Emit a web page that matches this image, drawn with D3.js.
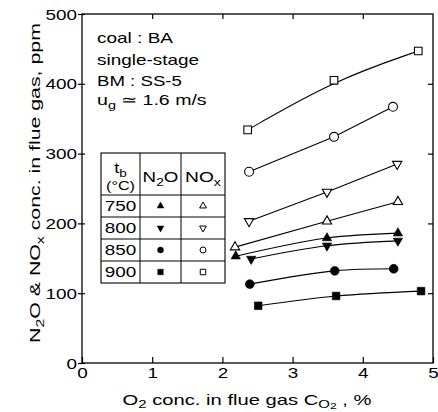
<!DOCTYPE html>
<html>
<head>
<meta charset="utf-8">
<script src="https://cdn.jsdelivr.net/npm/d3@7"></script>
<style>
  html, body { margin: 0; padding: 0; background: #fff; }
  svg { display: block; font-family: "Liberation Sans", Arial, Helvetica, sans-serif; }
</style>
</head>
<body>
<svg id="chart" width="438" height="412"></svg>
<script>
// Bed temperatures (°C), one curve pair per temperature
const temps = ["750", "800", "850", "900"];
// O2 concentration in flue gas (%) of each measured point
const n2oX = [[2.19, 3.49, 4.50], [2.41, 3.49, 4.50], [2.39, 3.60, 4.44], [2.51, 3.62, 4.83]];
const noxX = [[2.18, 3.49, 4.50], [2.38, 3.49, 4.49], [2.38, 3.59, 4.43], [2.36, 3.59, 4.79]];
// N2O and NOx concentrations (ppm)
const n2oY = [[153, 179, 186], [149, 168, 175], [113, 132, 135], [82, 96, 103]];
const noxY = [[166, 203, 231], [203, 245, 285], [274, 324, 367], [334, 405, 447]];
// Axis ticks
const xTicks = [0, 1, 2, 3, 4, 5];
const yTicks = [0, 100, 200, 300, 400, 500];
// Operating conditions block: text runs as [text, level] (0 normal, 1 subscript)
const infoLines = [
  [["coal : BA", 0]],
  [["single-stage", 0]],
  [["BM : SS-5", 0]],
  [["u", 0], ["g", 1], [" \u2243 1.6 m/s", 0]]
];

const svg = d3.select("#chart");
const X0 = 82, X1 = 433, Y0 = 363, Y1 = 14;
const x = d3.scaleLinear().domain([0, 5]).range([X0, X1]);
const y = d3.scaleLinear().domain([0, 500]).range([Y0, Y1]);

// Write text made of runs with subscripts; level 1 = subscript, level 2 = sub-subscript
function richText(parent, runs, size, shift = [0, 0.26, 0.42]) {
  const t = parent.append("text").attr("font-size", size).attr("fill", "#000");
  const scale = [1, 0.74, 0.6];
  let cur = 0;
  runs.forEach(([str, lvl]) => {
    const target = shift[lvl] * size;
    t.append("tspan")
      .attr("dy", (target - cur).toFixed(2))
      .attr("font-size", (size * scale[lvl]).toFixed(2))
      .text(str);
    cur = target;
  });
  return t;
}
// Place text at (px,py); either stretched to a width or by a fixed horizontal factor
function place(t, px, py, anchor, opts) {
  t.attr("text-anchor", anchor);
  let sx = opts.sx || 1;
  if (opts.width) sx = opts.width / t.node().getBBox().width;
  const rot = opts.rotate ? ` rotate(${opts.rotate})` : "";
  t.attr("transform", `translate(${px},${py})${rot} scale(${sx.toFixed(3)},1)`);
  return t;
}

// Frame
svg.append("rect")
  .attr("x", X0).attr("y", Y1).attr("width", X1 - X0).attr("height", Y0 - Y1)
  .attr("fill", "none").attr("stroke", "#000").attr("stroke-width", 1.3);

const TICK_FONT = 14, TICK_SX = 1.35;

// Left axis with labels
svg.append("g").attr("transform", `translate(${X0},0)`)
  .call(d3.axisLeft(y).tickValues(yTicks).tickSize(4).tickFormat(d3.format("d")))
  .call(g => g.select(".domain").remove())
  .call(g => g.selectAll(".tick line").attr("x1", 3).attr("stroke", "#000").attr("stroke-width", 1.2))
  .call(g => g.selectAll(".tick text")
    .attr("x", 0).attr("dy", "0.36em").attr("font-size", TICK_FONT)
    .attr("font-family", null).attr("fill", "#000")
    .attr("transform", `translate(-5,0) scale(${TICK_SX},1)`));

// Bottom axis with labels, ticks pointing inward
svg.append("g").attr("transform", `translate(0,${Y0})`)
  .call(d3.axisBottom(x).tickValues(xTicks).tickSize(-6).tickFormat(d3.format("d")))
  .call(g => g.select(".domain").remove())
  .call(g => g.selectAll(".tick line").attr("stroke", "#000").attr("stroke-width", 1.2))
  .call(g => g.selectAll(".tick text")
    .attr("y", 0).attr("dy", "0.71em").attr("font-size", TICK_FONT)
    .attr("font-family", null).attr("fill", "#000")
    .attr("transform", `translate(0,5) scale(${TICK_SX},1)`));

// Top and right axes: inward ticks only
svg.append("g").attr("transform", `translate(0,${Y1})`)
  .call(d3.axisTop(x).tickValues(xTicks.slice(1, -1)).tickSize(-5).tickFormat(""))
  .call(g => g.select(".domain").remove())
  .call(g => g.selectAll(".tick line").attr("stroke", "#000").attr("stroke-width", 1.2));
svg.append("g").attr("transform", `translate(${X1},0)`)
  .call(d3.axisRight(y).tickValues(yTicks.slice(1, -1)).tickSize(-5).tickFormat(""))
  .call(g => g.select(".domain").remove())
  .call(g => g.selectAll(".tick line").attr("stroke", "#000").attr("stroke-width", 1.2));

// Axis titles
place(richText(svg, [["O", 0], ["2", 1], [" conc. in flue gas C", 0], ["O", 1], ["2", 2], [" , %", 0]], 14, [0, 0.2, 0.3]),
  247, 405, "middle", { width: 249 });
place(richText(svg, [["N", 0], ["2", 1], ["O & NO", 0], ["x", 1], [" conc. in flue gas, ppm", 0]], 14.5),
  40, 183, "middle", { width: 320, rotate: -90 });

// Operating conditions
const infoBase = [43, 65, 86, 105], infoWidth = [76, 102, 85, 111];
infoLines.forEach((runs, i) => {
  place(richText(svg, runs, 15), 97, infoBase[i], "start", { width: infoWidth[i] });
});

// Marker shapes per temperature
const symType = {
  "750": d3.symbolTriangle, "800": d3.symbolTriangle,
  "850": d3.symbolCircle, "900": d3.symbolSquare
};
const symRot = { "750": 0, "800": 180, "850": 0, "900": 0 };
const symSize = { "750": 38, "800": 38, "850": 62, "900": 58 };

// Series: filled markers N2O, open markers NOx
const series = temps.flatMap((t, i) => [
  { temp: t, filled: true, curve: d3.curveCatmullRom,
    pts: n2oX[i].map((v, j) => [v, n2oY[i][j]]) },
  { temp: t, filled: false, curve: t === "900" ? d3.curveBasis : d3.curveLinear,
    pts: noxX[i].map((v, j) => [v, noxY[i][j]]) }
]);

const plot = svg.append("g");
series.forEach(s => {
  plot.append("path")
    .attr("d", d3.line().x(d => x(d[0])).y(d => y(d[1])).curve(s.curve)(s.pts))
    .attr("fill", "none").attr("stroke", "#000").attr("stroke-width", 1.1);
});
series.forEach(s => {
  plot.selectAll(null).data(s.pts).join("path")
    .attr("d", d3.symbol().type(symType[s.temp]).size(symSize[s.temp]))
    .attr("transform", d => `translate(${x(d[0])},${y(d[1])}) rotate(${symRot[s.temp]})`)
    .attr("fill", s.filled ? "#000" : "#fff")
    .attr("stroke", "#000").attr("stroke-width", s.filled ? 0.6 : 1.1);
});

// Legend table
const colX = [101, 140, 181, 225];
const rowY = [153, 195, 217, 239, 261, 283];
const leg = svg.append("g");
leg.append("rect")
  .attr("x", colX[0]).attr("y", rowY[0])
  .attr("width", colX[3] - colX[0]).attr("height", rowY[5] - rowY[0])
  .attr("fill", "#fff").attr("stroke", "#000").attr("stroke-width", 1.1);
colX.slice(1, 3).forEach(cx => leg.append("line")
  .attr("x1", cx).attr("x2", cx).attr("y1", rowY[0]).attr("y2", rowY[5])
  .attr("stroke", "#000").attr("stroke-width", 1));
rowY.slice(1, 5).forEach(ry => leg.append("line")
  .attr("x1", colX[0]).attr("x2", colX[3]).attr("y1", ry).attr("y2", ry)
  .attr("stroke", "#000").attr("stroke-width", 1));

const c0 = (colX[0] + colX[1]) / 2, c1 = (colX[1] + colX[2]) / 2, c2 = (colX[2] + colX[3]) / 2;
place(richText(leg, [["t", 0], ["b", 1]], 14), c0, 173, "middle", { sx: 1.3 });
place(richText(leg, [["(\u00b0C)", 0]], 12.5), c0, 190, "middle", { sx: 1.3 });
place(richText(leg, [["N", 0], ["2", 1], ["O", 0]], 14), c1, 182, "middle", { width: 36 });
place(richText(leg, [["NO", 0], ["x", 1]], 14), c2, 182, "middle", { width: 37 });

const legSize = { "750": 20, "800": 20, "850": 28, "900": 30 };
temps.forEach((t, i) => {
  const cy = (rowY[i + 1] + rowY[i + 2]) / 2;
  place(richText(leg, [[t, 0]], 14), c0, cy + 5, "middle", { sx: TICK_SX });
  [[c1, true], [c2, false]].forEach(([cx, filled]) => {
    leg.append("path")
      .attr("d", d3.symbol().type(symType[t]).size(legSize[t]))
      .attr("transform", `translate(${cx},${cy}) rotate(${symRot[t]})`)
      .attr("fill", filled ? "#000" : "#fff")
      .attr("stroke", "#000").attr("stroke-width", filled ? 0.5 : 1);
  });
});
</script>
</body>
</html>
